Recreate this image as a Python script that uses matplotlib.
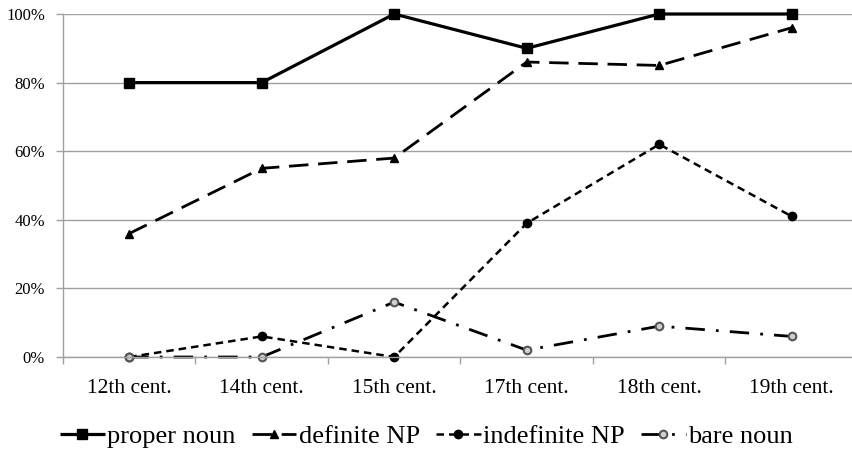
import matplotlib
matplotlib.use("Agg")
import matplotlib.pyplot as plt
from matplotlib.ticker import FixedLocator, FuncFormatter

categories = ["12th cent.", "14th cent.", "15th cent.", "17th cent.", "18th cent.", "19th cent."]
proper_noun = [80, 80, 100, 90, 100, 100]
definite_np = [36, 55, 58, 86, 85, 96]
indefinite_np = [0, 6, 0, 39, 62, 41]
bare_noun = [0, 0, 16, 2, 9, 6]
y_ticks = [0, 20, 40, 60, 80, 100]

plt.rcParams['font.family'] = ['Liberation Serif', 'DejaVu Serif']

W, H = 853, 450
fig = plt.figure(figsize=(W / 100, H / 100), dpi=100)
ax = fig.add_axes([63 / W, 93 / H, 795 / W, 343 / H])

x = list(range(len(categories)))
ax.plot(x, proper_noun, color='black', lw=2.3, ls='-', marker='s', ms=6.5,
        label='proper noun', solid_capstyle='butt')
ax.plot(x, definite_np, color='black', lw=2.0, ls=(0, (7, 3.5)), marker='^', ms=6,
        label='definite NP', dash_capstyle='butt')
ax.plot(x, indefinite_np, color='black', lw=1.8, ls=(0, (3, 2)), marker='o', ms=6,
        label='indefinite NP', dash_capstyle='butt')
ax.plot(x, bare_noun, color='black', lw=2.0, ls=(0, (7, 4, 1, 4)), marker='o', ms=5.5,
        markerfacecolor='#cfcfcf', markeredgecolor='#555555', markeredgewidth=1.5,
        label='bare noun', dash_capstyle='butt')

ax.set_xlim(-0.5, 5.5)
ax.set_ylim(0, 100)
ax.set_xticks(x)
ax.set_xticklabels(categories, fontsize=15.5)
ax.xaxis.set_minor_locator(FixedLocator([i - 0.5 for i in range(len(categories) + 1)]))
ax.tick_params(axis='x', which='major', length=0, pad=16)
ax.tick_params(axis='x', which='minor', length=5, width=1, color='#a0a0a0', direction='out')
ax.set_yticks(y_ticks)
ax.yaxis.set_major_formatter(FuncFormatter(lambda v, p: f"{int(v)}%"))
ax.tick_params(axis='y', length=5, width=1, color='#a0a0a0', labelsize=12, pad=8)
ax.grid(axis='y', color='#a0a0a0', lw=1)
ax.set_axisbelow(True)
for s in ['top', 'right']:
    ax.spines[s].set_visible(False)
for s in ['left', 'bottom']:
    ax.spines[s].set_color('#a0a0a0')
    ax.spines[s].set_linewidth(1)
for l in ax.get_lines():
    l.set_clip_on(False)

fig.legend(loc='center', bbox_to_anchor=(0.5, 14 / H), ncol=4, frameon=False,
           fontsize=19, handlelength=1.7, handletextpad=0.1, columnspacing=0.6,
           borderpad=0)

fig.savefig('out.png', dpi=100)
